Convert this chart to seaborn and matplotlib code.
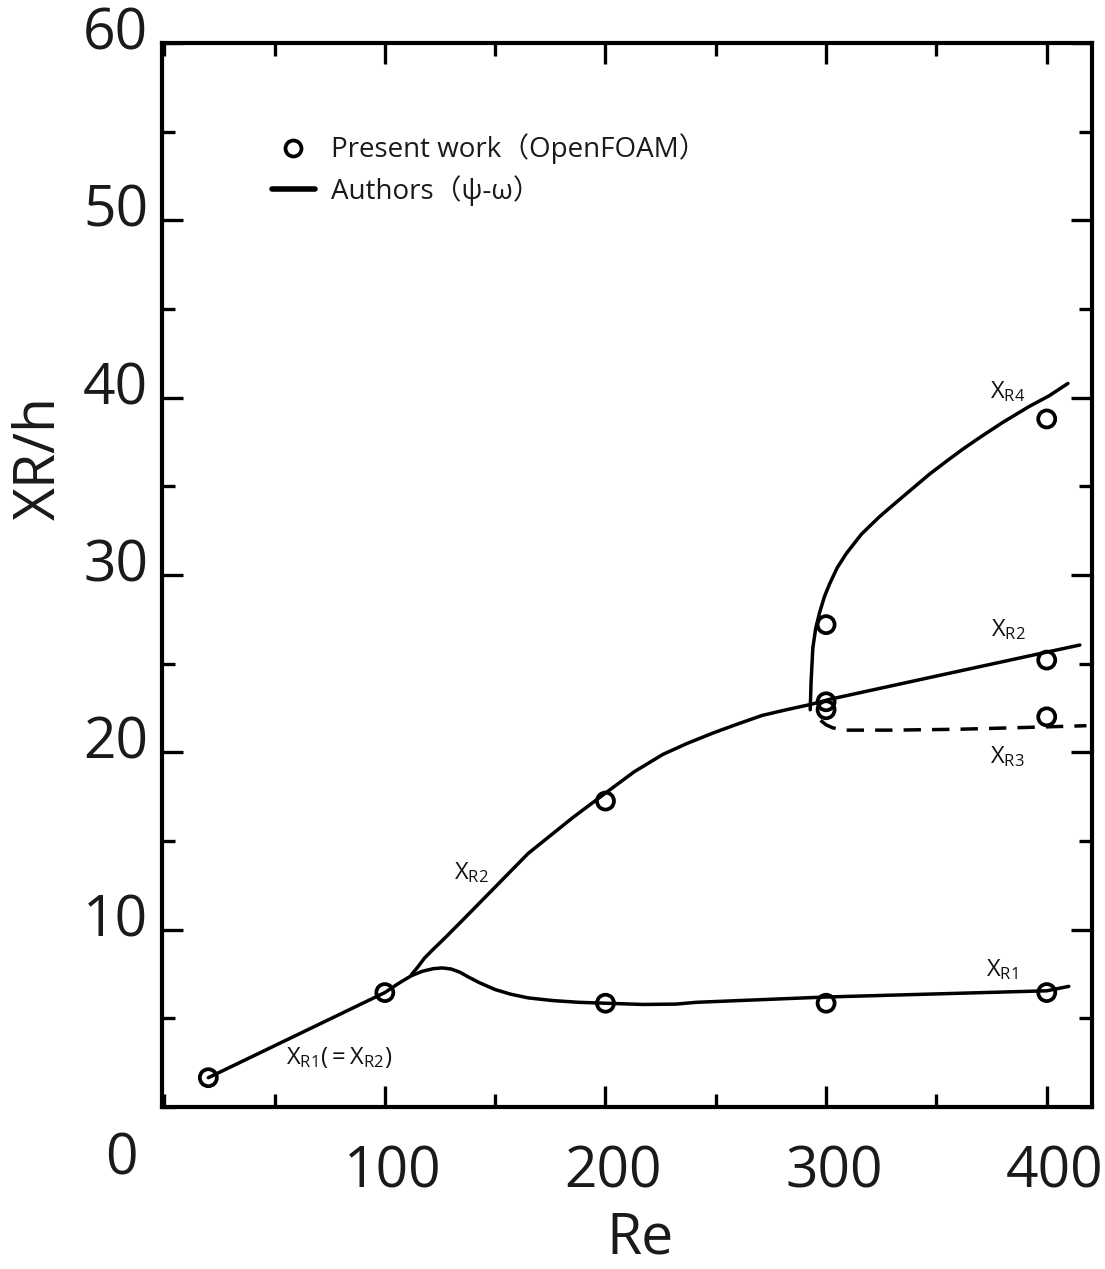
import matplotlib
matplotlib.use("Agg")
import matplotlib.pyplot as plt
import matplotlib.transforms as mtransforms
from matplotlib.lines import Line2D
from matplotlib.ticker import MultipleLocator
import seaborn as sns

sns.set_theme(style="ticks")
plt.rcParams["font.family"] = ["Open Sans", "Noto Sans CJK JP", "DejaVu Sans"]
plt.rcParams["mathtext.fontset"] = "custom"
plt.rcParams["mathtext.rm"] = "Open Sans"

# Present work (OpenFOAM) - open circles
re_points = [20, 100, 200, 300, 400, 200, 300, 400, 300, 400, 300, 400]
xr_points = [1.65, 6.45, 5.85, 5.85, 6.45, 17.25, 22.85, 25.2, 22.4, 22.0, 27.2, 38.8]

# Authors (psi-omega) - curves
xr1_re = [20, 100, 106, 112, 117, 122, 126, 130, 134, 138, 143, 150, 157, 165,
          176, 188, 200, 217, 232, 241, 300, 400, 410]
xr1_val = [1.65, 6.45, 6.95, 7.4, 7.65, 7.8, 7.84, 7.78, 7.6, 7.32, 7.0, 6.62,
           6.36, 6.15, 6.0, 5.9, 5.85, 5.78, 5.8, 5.9, 6.2, 6.55, 6.8]

xr2_re = [112, 115, 118, 122, 127, 135, 150, 165, 185, 200, 213, 226, 237,
          249, 260, 271, 282, 293, 302, 350, 400, 415]
xr2_val = [7.45, 7.9, 8.4, 8.9, 9.5, 10.5, 12.4, 14.3, 16.3, 17.7, 18.9, 19.88,
           20.5, 21.1, 21.6, 22.08, 22.4, 22.7, 23.0, 24.3, 25.65, 26.05]

xr3_re = [297.5, 300, 303, 309, 330, 360, 390, 418]
xr3_val = [21.8, 21.55, 21.38, 21.25, 21.25, 21.3, 21.4, 21.5]

xr4_re = [292.8, 293.2, 294.0, 295.3, 297.1, 299.3, 301.6, 305, 309.1, 316,
          324.3, 331.8, 339.4, 347, 354.4, 362, 369.6, 380, 392, 401, 409.6]
xr4_val = [22.4, 24.0, 25.9, 27.0, 27.9, 28.8, 29.5, 30.4, 31.2, 32.3,
           33.3, 34.1, 34.9, 35.7, 36.4, 37.1, 37.75, 38.6, 39.5, 40.1, 40.8]

# curve labels: (text, Re, XR)
curve_labels = [
    (r"$\mathregular{X_{R4}}$", 382.3, 40.35),
    (r"$\mathregular{X_{R2}}$", 382.8, 26.93),
    (r"$\mathregular{X_{R3}}$", 382.3, 19.76),
    (r"$\mathregular{X_{R1}}$", 379.6, 7.75),
    (r"$\mathregular{X_{R2}}$", 139.0, 13.22),
    (r"$\mathregular{X_{R1}(=X_{R2})}$", 79.2, 2.79),
]

fig = plt.figure(figsize=(11.05, 12.69), dpi=100)
ax = fig.add_axes([0.1466, 0.1277, 0.8416, 0.8384])

lw = 2.5
for xs, ys in [(xr1_re, xr1_val), (xr2_re, xr2_val), (xr4_re, xr4_val)]:
    sns.lineplot(x=xs, y=ys, sort=False, estimator=None, color="black",
                 linewidth=lw, ax=ax)
sns.lineplot(x=xr3_re, y=xr3_val, sort=False, estimator=None, color="black",
             linewidth=lw, linestyle=(0, (5, 3.2)), ax=ax)

sns.scatterplot(x=re_points, y=xr_points, marker="o", s=150,
                facecolors="none", edgecolor="black", linewidth=2.7,
                zorder=3, ax=ax)

for txt, xv, yv in curve_labels:
    ax.text(xv, yv, txt, fontsize=17, ha="center", va="center", color="#111111")

ax.set_xlim(-1, 420.5)
ax.set_ylim(0, 60)
ax.xaxis.set_minor_locator(MultipleLocator(50))
ax.yaxis.set_minor_locator(MultipleLocator(5))
ax.set_xticks([100, 200, 300, 400])
ax.set_yticks([10, 20, 30, 40, 50, 60])

ax.tick_params(which="both", direction="in", top=True, right=True,
               color="black", width=2.4)
ax.tick_params(which="major", length=15, labelsize=41, labelcolor="#1a1a1a")
ax.tick_params(axis="x", which="major", pad=27)
ax.tick_params(axis="y", which="major", pad=10)
ax.tick_params(which="minor", length=9.5)
for sp in ax.spines.values():
    sp.set_linewidth(3)
    sp.set_color("black")

# shift tick labels to match the original placement
dy = mtransforms.ScaledTranslation(0, 15 / 100, fig.dpi_scale_trans)
dx = mtransforms.ScaledTranslation(8 / 100, 0, fig.dpi_scale_trans)
for lab in ax.get_yticklabels():
    lab.set_transform(lab.get_transform() + dy)
for lab in ax.get_xticklabels():
    lab.set_transform(lab.get_transform() + dx)

ax.text(-0.044, -0.05, "0", transform=ax.transAxes, fontsize=41,
        ha="center", va="center", color="#1a1a1a")

ax.set_xlabel("Re", fontsize=41, color="#1a1a1a")
ax.set_ylabel("XR/h", fontsize=41, color="#1a1a1a")
ax.xaxis.set_label_coords(0.514, -0.097)
ax.yaxis.set_label_coords(-0.10, 0.61)

handles = [
    Line2D([], [], marker="o", linestyle="none", markerfacecolor="none",
           markeredgecolor="black", markeredgewidth=2.7, markersize=11.5),
    Line2D([], [], color="black", linewidth=4),
]
labels = ["Present work（OpenFOAM）", "Authors（ψ-ω）"]
leg = ax.legend(handles, labels, loc="upper left", bbox_to_anchor=(0.118, 0.915),
                frameon=False, fontsize=20, handlelength=1.55, handletextpad=0.6,
                labelspacing=0.38, borderpad=0, borderaxespad=0)
for t in leg.get_texts():
    t.set_color("#1a1a1a")

fig.savefig("out.png", dpi=100)
